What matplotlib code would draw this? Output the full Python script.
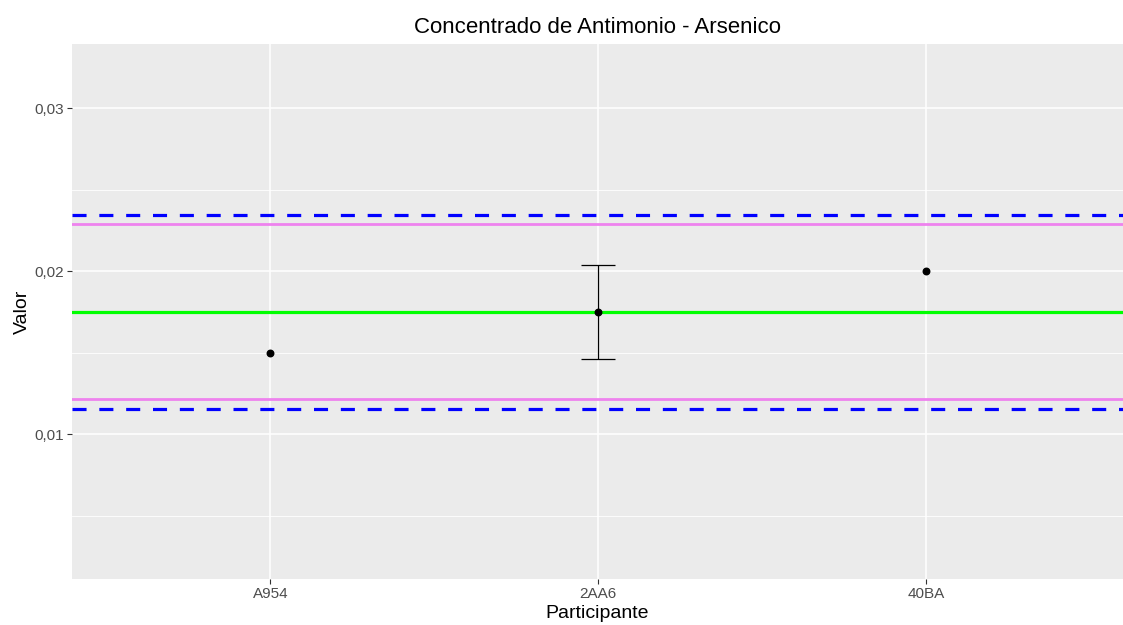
import numpy as np
import matplotlib
matplotlib.use("Agg")
import matplotlib.pyplot as plt

plt.rcParams['font.family'] = ['Liberation Sans', 'DejaVu Sans']

# datos
participantes = ['A954', '2AA6', '40BA']
valores = [0.015, 0.0175, 0.020]
# incertidumbre (solo 2AA6 tiene barra)
err_inf = [0.0, 0.0029, 0.0]
err_sup = [0.0, 0.0029, 0.0]
tiene_barra = [False, True, False]

valor_asignado = 0.0175
lim_violeta = [0.01213, 0.02288]
lim_azul = [0.01153, 0.02345]

y_ticks = [0.01, 0.02, 0.03]
y_tick_labels = ['0,01', '0,02', '0,03']
y_minor = [0.005, 0.015, 0.025]

fig = plt.figure(figsize=(11.23, 6.25), dpi=100)
ax = fig.add_axes([72/1123, 1 - 579/625, 1 - 72/1123, (579 - 44)/625])
ax.set_facecolor('#EBEBEB')
for s in ax.spines.values():
    s.set_visible(False)

x = np.arange(1, len(participantes) + 1)

# grid
for yv in y_minor:
    ax.axhline(yv, color='white', lw=0.6, zorder=0)
for yv in y_ticks:
    ax.axhline(yv, color='white', lw=1.1, zorder=0)
for xv in x:
    ax.axvline(xv, color='white', lw=1.1, zorder=0)

# lineas de referencia
ax.axhline(valor_asignado, color='#00FF00', lw=2.3, zorder=2)
for v in lim_violeta:
    ax.axhline(v, color='violet', lw=2.0, zorder=2)
for v in lim_azul:
    ax.axhline(v, color='blue', lw=2.3, ls=(0, (4.4, 4.0)), zorder=2)

# barras de error
for i in range(len(x)):
    if tiene_barra[i]:
        ax.errorbar(x[i], valores[i], yerr=[[err_inf[i]], [err_sup[i]]],
                    fmt='none', ecolor='black', elinewidth=0.9,
                    capsize=11.9, capthick=0.9, zorder=3)

ax.scatter(x, valores, s=22, color='black', zorder=4)

ax.set_xlim(0.395, 3.6)
ax.set_ylim(0.00111, 0.03393)
ax.set_xticks(x)
ax.set_xticklabels(participantes)
ax.set_yticks(y_ticks)
ax.set_yticklabels(y_tick_labels)
ax.tick_params(axis='both', colors='#333333', length=3.5, width=0.8,
               labelsize=11, labelcolor='#4D4D4D', pad=2)

ax.set_xlabel('Participante', fontsize=14, labelpad=3)
ax.set_ylabel('Valor', fontsize=14, labelpad=3)
ax.set_title('Concentrado de Antimonio - Arsenico', fontsize=16, pad=8)

fig.savefig('out.png', dpi=100)
